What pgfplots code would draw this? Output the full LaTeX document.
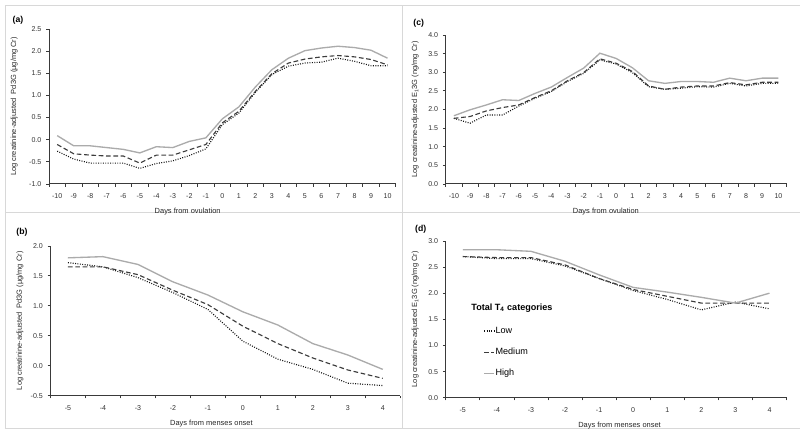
\documentclass[border=0pt]{standalone}
\usepackage{fontspec}
\setmainfont{Liberation Sans}
\usepackage{pgfplots}
\usepackage{pgfplotstable}
\pgfplotsset{compat=1.18}

\definecolor{hicol}{HTML}{ABABAB}
\definecolor{medcol}{HTML}{3C3C3C}
\definecolor{lowcol}{HTML}{111111}
\definecolor{axcol}{HTML}{3A3A3A}
\definecolor{framecol}{HTML}{D8D8D8}

% days from ovulation: Pd3G and E13G
\pgfplotstableread{
day  low    med    high
-10  -0.26  -0.11  0.09
-9   -0.44  -0.32  -0.14
-8   -0.53  -0.35  -0.14
-7   -0.53  -0.37  -0.18
-6   -0.53  -0.37  -0.22
-5   -0.65  -0.53  -0.30
-4   -0.54  -0.35  -0.16
-3   -0.48  -0.35  -0.18
-2   -0.36  -0.23  -0.04
-1   -0.21  -0.11  0.04
0    0.34   0.38   0.47
1    0.60   0.64   0.74
2    1.07   1.09   1.19
3    1.47   1.49   1.58
4    1.66   1.73   1.84
5    1.73   1.82   2.01
6    1.75   1.87   2.07
7    1.84   1.90   2.11
8    1.77   1.87   2.08
9    1.67   1.81   2.02
10   1.67   1.69   1.84
}\tblA

\pgfplotstableread{
day  low   med   high
-10  1.76  1.76  1.83
-9   1.63  1.81  1.99
-8   1.85  1.96  2.12
-7   1.85  2.05  2.26
-6   2.09  2.12  2.24
-5   2.30  2.32  2.43
-4   2.48  2.50  2.60
-3   2.75  2.77  2.86
-2   2.97  2.99  3.11
-1   3.33  3.36  3.51
0    3.22  3.24  3.37
1    2.99  3.02  3.12
2    2.61  2.63  2.77
3    2.54  2.54  2.70
4    2.57  2.60  2.75
5    2.61  2.63  2.75
6    2.60  2.63  2.73
7    2.70  2.72  2.84
8    2.63  2.66  2.77
9    2.70  2.73  2.84
10   2.70  2.73  2.84
}\tblC

% days from menses onset
\pgfplotstableread{
day  low    med    high
-5   1.72   1.65   1.80
-4   1.65   1.65   1.82
-3   1.47   1.52   1.69
-2   1.22   1.26   1.40
-1   0.94   1.02   1.18
0    0.41   0.66   0.90
1    0.11   0.37   0.68
2    -0.06  0.13   0.37
3    -0.29  -0.07  0.18
4    -0.33  -0.21  -0.06
}\tblB

\pgfplotstableread{
day  low   med   high
-5   2.70  2.70  2.83
-4   2.66  2.68  2.83
-3   2.66  2.68  2.80
-2   2.52  2.54  2.61
-1   2.28  2.28  2.35
0    2.05  2.07  2.11
1    1.88  1.94  2.02
2    1.68  1.81  1.92
3    1.83  1.81  1.81
4    1.70  1.81  2.00
}\tblD

\pgfplotsset{
  panel/.style={
    scale only axis,
    axis x line*=bottom,
    axis y line*=left,
    axis line style={axcol, line width=0.6pt},
    tick style={axcol, line width=0.5pt},
    tick align=outside,
    major tick length=2.2pt,
    minor tick length=2pt,
    x tick style={draw=none},
    minor x tick style={axcol, line width=0.5pt, draw=axcol},
    ticklabel style={font=\fontsize{5.3}{6}\selectfont, text=black!80},
    label style={font=\fontsize{5.6}{6.5}\selectfont, text=black!85},
    /pgf/number format/assume math mode=true,
    yticklabel style={/pgf/number format/.cd, fixed, fixed zerofill, precision=1},
    xticklabel style={yshift=-1.5pt},
    clip=false,
  },
  lowline/.style={lowcol, line width=0.85pt, dash pattern=on 0.7pt off 1.1pt},
  medline/.style={medcol, line width=0.85pt, dash pattern=on 3.5pt off 2pt},
  highline/.style={hicol, line width=1pt},
}

\begin{document}
\begin{tikzpicture}[x=0.75pt, y=0.75pt]
\path (0,0) rectangle (800,434);
% panel frames
\draw[framecol, line width=0.7pt] (5,429) -- (800,429);
\draw[framecol, line width=0.7pt] (5,5) -- (800,5);
\draw[framecol, line width=0.7pt] (5,5) -- (5,429);
\draw[framecol, line width=0.7pt] (403,5) -- (403,429);
\draw[framecol, line width=0.7pt] (5,221) -- (800,221);

% (a)
\begin{axis}[panel, at={(36.75pt,187.5pt)}, anchor=south west,
  width=260.25pt, height=116.25pt,
  xmin=-10.5, xmax=10.5, ymin=-1, ymax=2.5,
  xtick={-10,...,10}, minor xtick={-10.5,-9.5,...,10.5},
  ytick={-1,-0.5,...,2.5},
  xlabel={Days from ovulation},
  xlabel style={at={(axis description cs:0.40,0)}, anchor=center, yshift=-21pt},
  ylabel={Log creatinine-adjusted\ \ Pd3G (µg/mg Cr)},
  ylabel style={at={(axis description cs:-0.10,0.5)}, anchor=center},
]
\addplot[lowline] table[x=day, y=low] {\tblA};
\addplot[medline] table[x=day, y=med] {\tblA};
\addplot[highline] table[x=day, y=high] {\tblA};
\end{axis}

% (c)
\begin{axis}[panel, at={(334.5pt,187.5pt)}, anchor=south west,
  width=255.75pt, height=111.75pt,
  xmin=-10.5, xmax=10.5, ymin=0, ymax=4,
  xtick={-10,...,10}, minor xtick={-10.5,-9.5,...,10.5},
  ytick={0,0.5,...,4},
  xlabel={Days from ovulation},
  xlabel style={at={(axis description cs:0.47,0)}, anchor=center, yshift=-21pt},
  ylabel={Log creatinine-adjusted E\textsubscript{1}3G (ng/mg Cr)},
  ylabel style={at={(axis description cs:-0.09,0.5)}, anchor=center},
]
\addplot[lowline] table[x=day, y=low] {\tblC};
\addplot[medline] table[x=day, y=med] {\tblC};
\addplot[highline] table[x=day, y=high] {\tblC};
\end{axis}

% (b)
\begin{axis}[panel, at={(37.875pt,28.5pt)}, anchor=south west,
  width=262.5pt, height=112.5pt,
  xmin=-5.5, xmax=4.5, ymin=-0.5, ymax=2,
  xtick={-5,...,4}, minor xtick={-5.5,-4.5,...,4.5},
  ytick={-0.5,0,...,2},
  xlabel={Days from menses onset},
  xlabel style={at={(axis description cs:0.46,0)}, anchor=center, yshift=-21pt},
  ylabel={Log creatinine-adjusted\ \ Pd3G (µg/mg Cr)},
  ylabel style={at={(axis description cs:-0.087,0.5)}, anchor=center},
]
\addplot[lowline] table[x=day, y=low] {\tblB};
\addplot[medline] table[x=day, y=med] {\tblB};
\addplot[highline] table[x=day, y=high] {\tblB};
\end{axis}

% (d)
\begin{axis}[panel, at={(334.5pt,27pt)}, anchor=south west,
  width=255.75pt, height=117.75pt,
  xmin=-5.5, xmax=4.5, ymin=0, ymax=3,
  xtick={-5,...,4}, minor xtick={-5.5,-4.5,...,4.5},
  ytick={0,0.5,...,3},
  xlabel={Days from menses onset},
  xlabel style={at={(axis description cs:0.51,0)}, anchor=center, yshift=-21pt},
  ylabel={Log creatinine-adjusted E\textsubscript{1}3G (ng/mg Cr)},
  ylabel style={at={(axis description cs:-0.09,0.5)}, anchor=center},
  legend style={at={(axis description cs:0.11,0.47)}, anchor=north west,
    draw=none, fill=none, font=\fontsize{6.8}{8}\selectfont,
    row sep=5.5pt, inner sep=0pt,
    nodes={inner xsep=0.6pt}},
  legend cell align=left,
  legend image code/.code={\draw[#1] (0pt,0pt) -- (7.5pt,0pt);},
  /tikz/every even column/.append style={column sep=0pt},
  /tikz/every odd column/.append style={column sep=0pt},
]
\addplot[lowline] table[x=day, y=low] {\tblD};
\addlegendentry{Low}
\addplot[medline] table[x=day, y=med] {\tblD};
\addlegendentry{Medium}
\addplot[highline] table[x=day, y=high] {\tblD};
\addlegendentry{High}
\end{axis}

% legend title and panel letters
\node[font=\bfseries\fontsize{6.8}{8}\selectfont, anchor=west] at (467,126) {Total T\textsubscript{4} categories};
\node[font=\bfseries\fontsize{6.5}{8}\selectfont] at (18,414) {(a)};
\node[font=\bfseries\fontsize{6.5}{8}\selectfont] at (419,411) {(c)};
\node[font=\bfseries\fontsize{6.5}{8}\selectfont] at (22,202) {(b)};
\node[font=\bfseries\fontsize{6.5}{8}\selectfont] at (421,205) {(d)};
\end{tikzpicture}
\end{document}
